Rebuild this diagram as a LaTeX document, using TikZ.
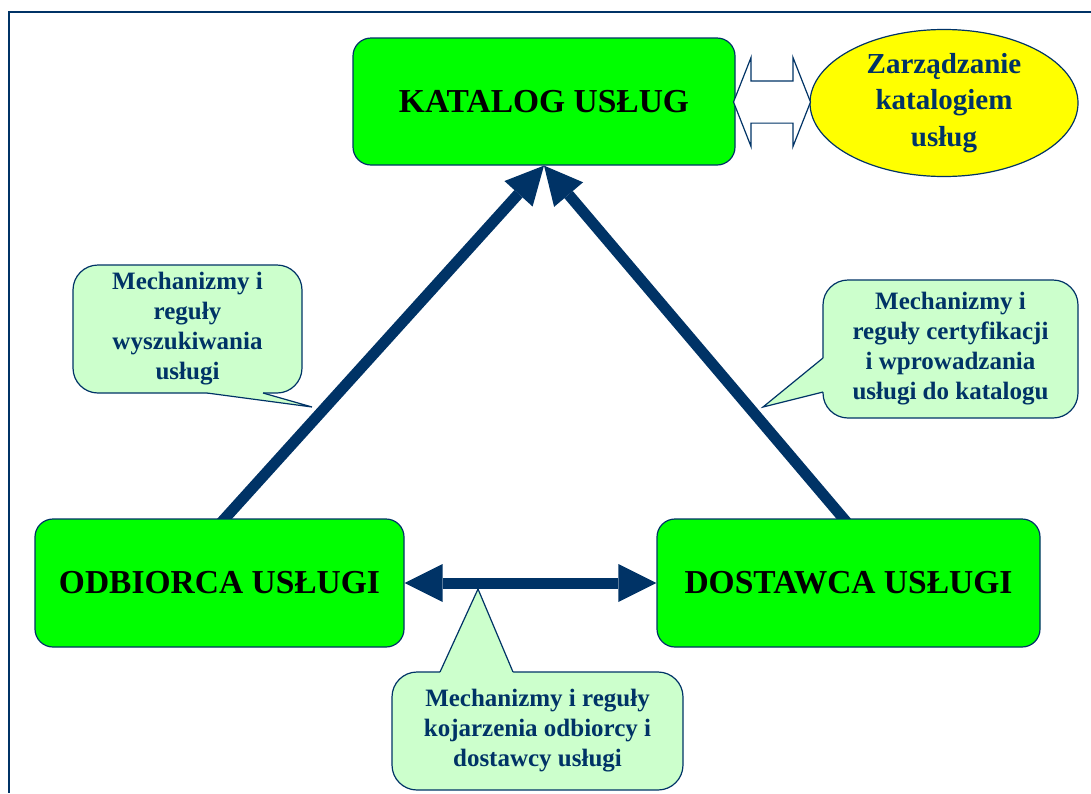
\documentclass[tikz,border=0pt]{standalone}
\usepackage{fontspec}
\setmainfont{Liberation Serif}
\usetikzlibrary{arrows.meta,shapes.geometric,shapes.arrows,backgrounds}
\definecolor{navy}{RGB}{0,51,102}
\definecolor{boxgreen}{RGB}{0,255,0}
\definecolor{notegreen}{RGB}{204,255,204}
\definecolor{mgmtyellow}{RGB}{255,255,0}
\tikzset{
  navytip/.tip={Triangle[length=38pt,width=38pt,line width=0pt]},
  mainbox/.style={draw=navy, line width=1.2pt, fill=boxgreen, rounded corners=18pt,
    font=\fontsize{33.5}{38}\selectfont\bfseries},
  notebox/.style={draw=navy, line width=1.2pt, fill=notegreen, rounded corners=25pt,
    text=navy, align=center, font=\fontsize{25}{30}\selectfont\bfseries},
  bigarrow/.style={navy, line width=11pt, -navytip},
  pointerline/.style={draw=navy, line width=1.2pt, line join=miter},
}
\begin{document}
\begin{tikzpicture}[x=1pt,y=-1pt]
    \useasboundingbox (0,0) rectangle (1091,793);
    \draw[navy, line width=1.5pt] (1091,12) -- (9,12) -- (9,793);

    \begin{scope}[every node/.style={mainbox}]
        \node[minimum width=382pt, minimum height=127pt] (kat) at (544,101.5) {KATALOG USŁUG};
        \node[minimum width=369pt, minimum height=128pt] (odb) at (219.5,583) {ODBIORCA USŁUGI};
        \node[minimum width=383pt, minimum height=128pt] (dost) at (848.5,583) {DOSTAWCA USŁUGI};
    \end{scope}

    \node[ellipse, draw=navy, line width=1.2pt, fill=mgmtyellow, minimum width=268pt,
        minimum height=147pt, inner sep=0pt, text=navy, align=center,
        font=\fontsize{29}{36.5}\selectfont\bfseries] (zarz) at (944,103) {Zarządzanie\\katalogiem\\usług};
    \node[double arrow, draw=navy, line width=1.2pt, fill=white, minimum height=77pt,
        inner xsep=0pt, inner ysep=20.5pt, double arrow head extend=23.5pt,
        double arrow tip angle=137] (link) at (772,102) {};

    \begin{scope}[every node/.style={notebox}]
        \node[minimum width=229pt, minimum height=128pt] (search) at (187.5,329)
            {Mechanizmy i\\reguły\\wyszukiwania\\usługi};
        \node[minimum width=255pt, minimum height=138pt] (cert) at (950.5,349)
            {Mechanizmy i\\reguły certyfikacji\\i wprowadzania\\usługi do katalogu};
        \node[minimum width=291pt, minimum height=118pt] (match) at (537.5,731)
            {Mechanizmy i reguły\\kojarzenia odbiorcy i\\dostawcy usługi};
    \end{scope}

    % callout pointers
    \coordinate (searchtip) at (312,407);
    \coordinate (certtip) at (763,407);
    \coordinate (matchtip) at (478,589);
    \fill[notegreen] (207,393) -- (searchtip) -- (263,393) -- (263,387) -- (207,387) -- cycle;
    \path[pointerline] (207,393) -- (searchtip) -- (263,393);
    \fill[notegreen] (823,358) -- (certtip) -- (823,392) -- (829,392) -- (829,358) -- cycle;
    \path[pointerline] (823,358) -- (certtip) -- (823,392);
    \fill[notegreen] (440,672) -- (matchtip) -- (513,672) -- (513,678) -- (440,678) -- cycle;
    \path[pointerline] (440,672) -- (matchtip) -- (513,672);

    \begin{pgfonlayer}{background}
        \draw[bigarrow] ([yshift=-6pt]odb.north) -- (kat.south);
        \draw[bigarrow] ([yshift=-6pt]dost.north) -- (kat.south);
        \draw[bigarrow, navytip-navytip] (odb.east) -- (dost.west);
    \end{pgfonlayer}
\end{tikzpicture}
\end{document}
